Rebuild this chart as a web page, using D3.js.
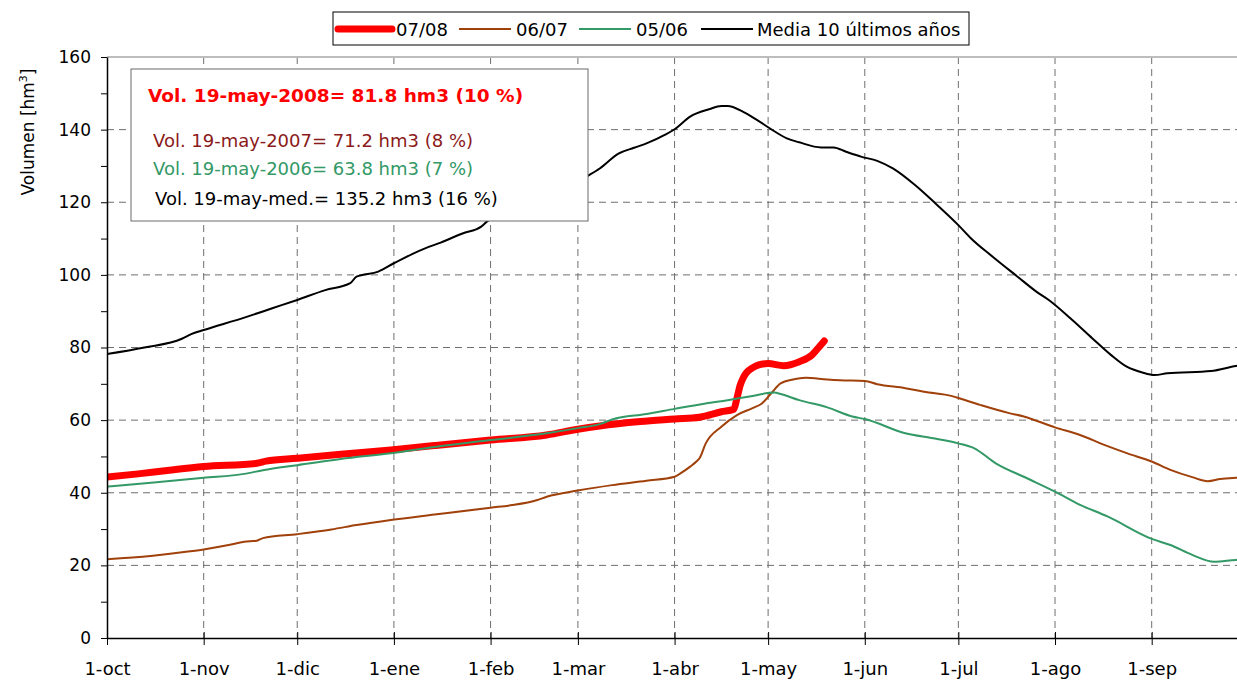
<!DOCTYPE html>
<html><head><meta charset="utf-8">
<script src="https://cdn.jsdelivr.net/npm/d3@7"></script>
<style>body{margin:0;background:#fff} svg{display:block} text{font-family:"DejaVu Sans",sans-serif}</style>
</head><body><svg id="c" width="1237" height="681"></svg>
<script>
// ---- data ----
const monthDays   = [0,31,61,92,123,151,182,212,243,273,304,335];
const monthLabels = ["1-oct","1-nov","1-dic","1-ene","1-feb","1-mar","1-abr","1-may","1-jun","1-jul","1-ago","1-sep"];
const yTickValues = [0,20,40,60,80,100,120,140,160];
const yMinorValues = [10,30,50,70,90,110,130,150];

const seriesNames = ["07/08","06/07","05/06","Media 10 últimos años"];
const seriesColors = ["#ff0000","#a0400a","#339966","#000000"];

const days0708 = [0,10,20,31,48,51,61,75,91,105,123,141,151,158,171,182,190,197,201,202,203,204,205,207,209,212,217,222,226,228,230];
const vol0708  = [44.3,45.2,46.2,47.2,48.1,48.7,49.5,50.6,51.8,53.0,54.5,55.9,57.5,58.4,59.6,60.3,60.8,62.3,63.0,66.0,69.5,71.6,73.0,74.4,75.2,75.6,75.0,76.1,77.9,79.8,81.8];

const days0607 = [0,14,26,31,39,44,48,50,61,72,80,91,105,123,130,138,141,151,162,173,182,184,187,189,190,192,197,202,207,210,213,216,220,224,231,235,243,247,256,262,271,274,280,289,294,304,312,320,327,335,341,348,353,357,362,365];
const vol0607  = [21.7,22.6,23.8,24.4,25.6,26.5,26.8,27.5,28.6,29.9,31.1,32.5,34.0,35.9,36.6,38.0,38.9,40.6,42.1,43.3,44.4,45.4,47.2,48.6,49.5,53.6,58.2,61.4,63.3,64.6,67.4,70.1,71.2,71.7,71.2,71.0,70.8,69.9,68.8,67.8,66.6,65.8,64.2,62.0,61.0,58.0,55.9,53.1,50.9,48.6,46.3,44.3,43.2,43.8,44.1,44.2];

const days0506 = [0,15,31,44,50,61,75,91,105,123,141,151,158,162,173,182,192,199,206,214,216,222,231,239,243,256,265,273,278,285,295,304,311,321,335,341,348,355,362,365];
const vol0506  = [41.7,42.8,44.1,45.2,46.2,47.6,49.3,50.9,52.6,54.5,56.4,57.8,58.9,60.2,61.7,63.1,64.6,65.5,66.5,67.6,67.2,65.5,63.5,61.0,60.3,56.4,55.0,53.6,52.3,48.1,44.0,40.3,37.1,33.4,27.3,25.6,22.9,21.0,21.5,21.6];

const daysMedia = [0,12,24,27,31,45,53,61,70,78,80,87,92,98,102,107,114,120,122,130,140,148,154,158,164,169,173,179,182,187,193,197,199,204,208,213,218,222,229,233,237,242,247,252,259,265,273,277,284,292,298,302,309,316,322,327,332,336,340,354,362,365];
const volMedia  = [78.2,80.0,82.4,83.7,84.8,88.5,90.8,93.1,95.8,97.7,99.5,100.9,103.2,105.8,107.3,108.9,111.4,113.3,114.8,117.6,121.2,124.2,127.2,129.3,133.4,135.0,136.2,138.6,140.1,143.6,145.6,146.5,146.5,144.9,142.9,140.1,137.6,136.5,135.1,135.1,133.9,132.5,131.4,129.3,124.8,120.2,113.7,110.1,105.0,99.5,95.4,93.1,88.0,82.5,77.9,74.7,73.1,72.4,72.9,73.5,74.9,75.3];

const infoLines = [
  {t:"Vol. 19-may-2008= 81.8 hm3 (10 %)", c:"#ff0000", b:true},
  {t:"Vol. 19-may-2007= 71.2 hm3 (8 %)", c:"#8b1a1a", b:false},
  {t:"Vol. 19-may-2006= 63.8 hm3 (7 %)", c:"#339966", b:false},
  {t:"Vol. 19-may-med.= 135.2 hm3 (16 %)", c:"#000000", b:false}
];

// ---- chart ----
const svg = d3.select("#c");
const pLeft = 107, pTop = 57, pBottom = 638, pxPerDay = 3.1185;
const x = d3.scaleLinear().domain([0,365]).range([pLeft, pLeft + 365*pxPerDay]);
const y = d3.scaleLinear().domain([0,160]).range([pBottom, pTop]);

svg.append("defs").append("clipPath").attr("id","clip")
  .append("rect").attr("x",pLeft).attr("y",pTop-10).attr("width",1237-pLeft).attr("height",pBottom-pTop+10);

// grid
const grid = svg.append("g");
grid.selectAll("line.h").data(yTickValues.filter(v=>v>0 && v<160)).join("line")
  .attr("x1",pLeft).attr("x2",1237).attr("y1",d=>y(d)).attr("y2",d=>y(d))
  .attr("stroke","#6e6e6e").attr("stroke-width",1).attr("stroke-dasharray","7,5");
grid.selectAll("line.v").data(monthDays.filter(d=>d>0)).join("line")
  .attr("x1",d=>x(d)).attr("x2",d=>x(d)).attr("y1",pTop).attr("y2",pBottom)
  .attr("stroke","#6e6e6e").attr("stroke-width",1).attr("stroke-dasharray","7,5");
grid.append("line").attr("x1",pLeft).attr("x2",1237).attr("y1",y(160)).attr("y2",y(160))
  .attr("stroke","#bdbdbd").attr("stroke-width",2);

// lines
const line = d3.line().x(d=>x(d[0])).y(d=>y(d[1])).curve(d3.curveMonotoneX);
const series = [
  {days:days0708, vals:vol0708, w:7},
  {days:days0607, vals:vol0607, w:2},
  {days:days0506, vals:vol0506, w:2},
  {days:daysMedia, vals:volMedia, w:2}
];
const lg = svg.append("g").attr("clip-path","url(#clip)");
series.forEach((s,i)=>{
  lg.append("path").datum(s.days.map((d,j)=>[d,s.vals[j]]))
    .attr("d",line).attr("fill","none").attr("stroke",seriesColors[i])
    .attr("stroke-width",s.w).attr("stroke-linecap","round").attr("stroke-linejoin","round");
});

// axes
const yAxis = d3.axisLeft(y).tickValues(yTickValues.concat(yMinorValues)).tickSize(6).tickSizeOuter(0).tickPadding(10)
  .tickFormat(d => d%20===0 ? d : "");
const gy = svg.append("g").attr("transform",`translate(${pLeft},0)`).call(yAxis);
gy.selectAll("text").attr("font-size","17px").attr("fill","#000").attr("font-family","DejaVu Sans");
gy.select(".domain").attr("stroke","#000").attr("stroke-width",1.5);
gy.selectAll(".tick line").attr("stroke","#000");

const xAxis = d3.axisBottom(x).tickValues(monthDays).tickFormat((d,i)=>monthLabels[i]).tickSize(6).tickSizeOuter(0);
const gx = svg.append("g").attr("transform",`translate(0,${pBottom})`).call(xAxis);
gx.selectAll(".tick line").attr("y1",-6).attr("y2",7).attr("stroke","#000");
gx.selectAll("text").attr("y",37).attr("dy",0).attr("font-size","18px").attr("fill","#000").attr("font-family","DejaVu Sans");
gx.select(".domain").attr("stroke","#000").attr("stroke-width",1.5);

// y title
const yt = svg.append("text").attr("transform","translate(34,132) rotate(-90)")
  .attr("text-anchor","middle").attr("font-size","17px").attr("fill","#000");
yt.append("tspan").text("Volumen [hm");
yt.append("tspan").text("3").attr("font-size","11px").attr("dy",-7);
yt.append("tspan").text("]").attr("dy",7);

// info box
svg.append("rect").attr("x",131).attr("y",69).attr("width",457).attr("height",152)
  .attr("fill","#fff").attr("stroke","#6a6a6a").attr("stroke-width",1);
const infoPos = [{x:148,y:102},{x:153,y:147},{x:153,y:175},{x:155,y:205}];
infoLines.forEach((l,i)=>{
  svg.append("text").attr("x",infoPos[i].x).attr("y",infoPos[i].y)
    .attr("font-size", l.b ? "18.5px" : "18px").attr("font-weight", l.b ? "bold" : "normal")
    .attr("fill",l.c).text(l.t);
});

// legend
svg.append("rect").attr("x",333).attr("y",12).attr("width",636).attr("height",33)
  .attr("fill","#fff").attr("stroke","#000").attr("stroke-width",1);
const legItems = [
  {x1:338,x2:392,tx:396,w:7},
  {x1:459,x2:511,tx:516,w:2},
  {x1:579,x2:631,tx:636,w:2},
  {x1:701,x2:753,tx:757,w:2}
];
legItems.forEach((it,i)=>{
  svg.append("line").attr("x1",it.x1).attr("x2",it.x2).attr("y1",29).attr("y2",29)
    .attr("stroke",seriesColors[i]).attr("stroke-width",it.w).attr("stroke-linecap",i===0?"round":"butt");
  svg.append("text").attr("x",it.tx).attr("y",36).attr("font-size","18px").attr("fill","#000").text(seriesNames[i]);
});
</script></body></html>
